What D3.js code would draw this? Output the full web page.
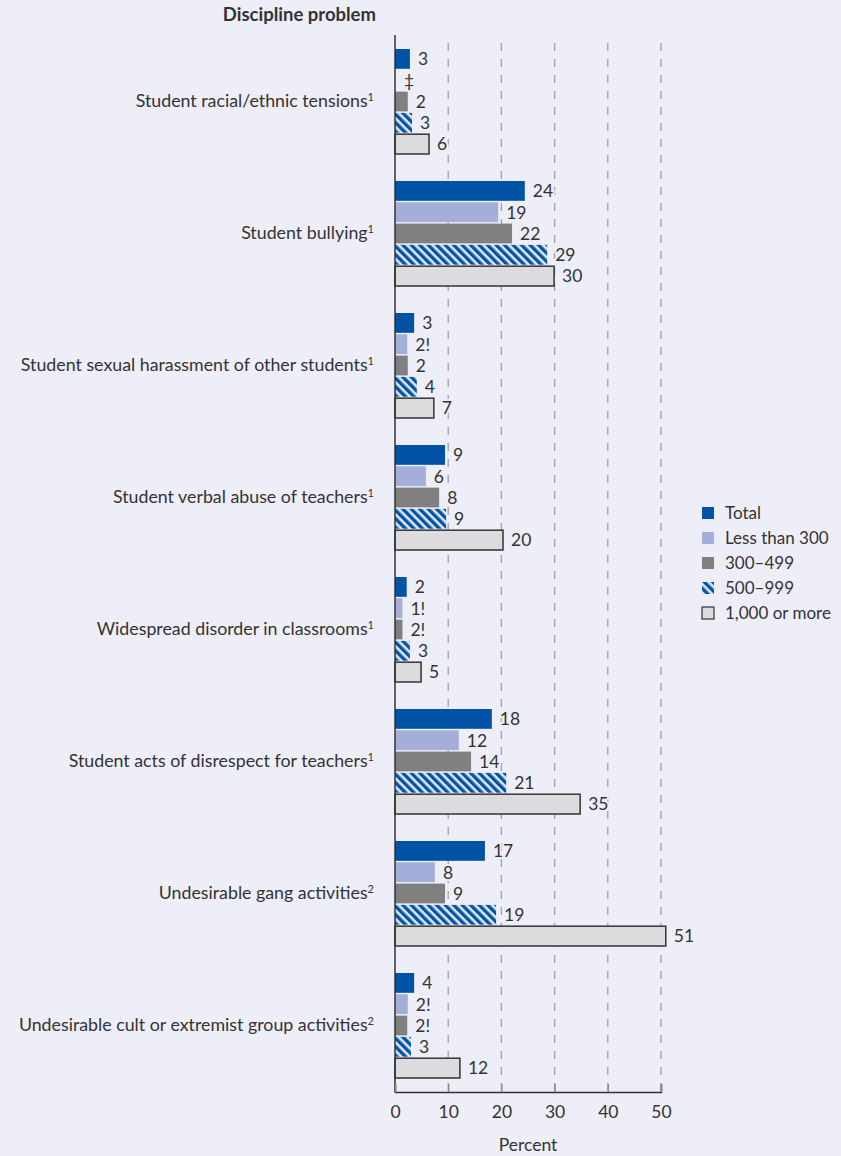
<!DOCTYPE html>
<html>
<head>
<meta charset="utf-8">
<script src="https://cdn.jsdelivr.net/npm/d3@7"></script>
<style>
  html, body { margin: 0; padding: 0; background: #eeeef8; }
  svg { display: block; }
  text { font-family: Lato, "Open Sans", sans-serif; fill: #333; }
</style>
</head>
<body>
<svg id="chart" width="841" height="1156"></svg>
<script>
const categories = [
  "Student racial/ethnic tensions",
  "Student bullying",
  "Student sexual harassment of other students",
  "Student verbal abuse of teachers",
  "Widespread disorder in classrooms",
  "Student acts of disrespect for teachers",
  "Undesirable gang activities",
  "Undesirable cult or extremist group activities"
];
const footnotes = ["1", "1", "1", "1", "1", "1", "2", "2"];
const seriesNames = ["Total", "Less than 300", "300–499", "500–999", "1,000 or more"];

const totalValues  = [2.8, 24.4, 3.6, 9.4, 2.2, 18.2, 16.9, 3.6];
const lt300Values  = [null, 19.4, 2.3, 5.8, 1.4, 12.0, 7.5, 2.4];
const s300Values   = [2.4, 22.0, 2.4, 8.3, 1.4, 14.3, 9.4, 2.3];
const s500Values   = [3.2, 28.6, 4.1, 9.6, 2.8, 20.9, 19.0, 3.0];
const s1000Values  = [6.4, 29.9, 7.3, 20.3, 4.9, 34.8, 50.9, 12.2];

const totalLabels  = ["3", "24", "3", "9", "2", "18", "17", "4"];
const lt300Labels  = ["‡", "19", "2!", "6", "1!", "12", "8", "2!"];
const s300Labels   = ["2", "22", "2", "8", "2!", "14", "9", "2!"];
const s500Labels   = ["3", "29", "4", "9", "3", "21", "19", "3"];
const s1000Labels  = ["6", "30", "7", "20", "5", "35", "51", "12"];

const xTicks = [0, 10, 20, 30, 40, 50];
const axisTitle = "Percent";
const chartTitle = "Discipline problem";

const seriesValues = [totalValues, lt300Values, s300Values, s500Values, s1000Values];
const seriesLabels = [totalLabels, lt300Labels, s300Labels, s500Labels, s1000Labels];

const svg = d3.select("#chart");
const defs = svg.append("defs");
const pat = defs.append("pattern")
  .attr("id", "hatch").attr("patternUnits", "userSpaceOnUse")
  .attr("width", 6).attr("height", 6)
  .attr("patternTransform", "rotate(-45)");
pat.append("rect").attr("width", 6).attr("height", 6).attr("fill", "#e4e6f4");
pat.append("rect").attr("x", 0).attr("width", 3.4).attr("height", 6).attr("fill", "#0055a5");

const fills = ["#0053a4", "#a3afd9", "#808080", "url(#hatch)", "#dcdcdf"];
const strokes = [null, null, null, null, "#333"];

const x = d3.scaleLinear().domain([0, 50]).range([395, 661]);
const y = d3.scaleBand().domain(categories).range([35, 1091]).padding(0);
const ySub = d3.scaleBand().domain(seriesNames).range([14, 119]).paddingInner(0.07);

// gridlines
svg.append("g").selectAll("line").data(xTicks.filter(d => d > 0)).join("line")
  .attr("x1", d => x(d)).attr("x2", d => x(d))
  .attr("y1", 43).attr("y2", 1091)
  .attr("stroke", "#a0a0a8").attr("stroke-width", 1.3)
  .attr("stroke-dasharray", "8,8");

// bars
const groups = svg.append("g").selectAll("g").data(categories).join("g")
  .attr("transform", c => `translate(0,${y(c)})`);

groups.each(function(c, ci) {
  const g = d3.select(this);
  seriesNames.forEach((s, si) => {
    const v = seriesValues[si][ci];
    const yy = ySub(s);
    const h = ySub.bandwidth();
    if (v !== null) {
      const r = g.append("rect")
        .attr("x", x(0)).attr("y", yy)
        .attr("width", x(v) - x(0)).attr("height", h)
        .attr("fill", fills[si]);
      if (strokes[si]) r.attr("stroke", strokes[si]).attr("stroke-width", 1.5);
    }
  });
  seriesNames.forEach((s, si) => {
    const v = seriesValues[si][ci];
    const yy = ySub(s);
    const h = ySub.bandwidth();
    const lx = v !== null ? x(v) + 8 : x(0) + 9;
    g.append("text")
      .attr("x", lx).attr("y", yy + h / 2)
      .attr("dy", "0.36em")
      .attr("font-size", 17.5)
      .attr("stroke", "#eeeef8").attr("stroke-width", 4)
      .attr("paint-order", "stroke")
      .text(seriesLabels[si][ci]);
  });
  const t = g.append("text")
    .attr("x", 374).attr("y", 66)
    .attr("dy", "0.36em")
    .attr("text-anchor", "end")
    .attr("font-size", 17.8);
  t.append("tspan").text(c);
  t.append("tspan").attr("font-size", 11).attr("dy", "-0.6em").text(footnotes[ci]);
});

// y axis line
svg.append("line").attr("x1", x(0)).attr("x2", x(0)).attr("y1", 35).attr("y2", 1092)
  .attr("stroke", "#333").attr("stroke-width", 1.5);

// x axis
const xAxis = svg.append("g").attr("transform", "translate(0,1092)")
  .call(d3.axisBottom(x).tickValues(xTicks).tickSize(-8).tickPadding(14).tickFormat(d3.format("d")));
xAxis.select(".domain").attr("stroke", "#333").attr("stroke-width", 1.5);
xAxis.selectAll(".tick line").attr("stroke", "#888").attr("stroke-width", 1.3);
xAxis.selectAll(".tick text").attr("font-size", 17.5).attr("fill", "#333")
  .attr("font-family", "Lato, 'Open Sans', sans-serif");

svg.append("text").attr("x", x(25)).attr("y", 1151)
  .attr("text-anchor", "middle").attr("font-size", 17.5).text(axisTitle);

svg.append("text").attr("x", 376).attr("y", 21)
  .attr("text-anchor", "end").attr("font-size", 18.5).attr("font-weight", "bold")
  .attr("fill", "#222").text(chartTitle);

// legend
const legend = svg.append("g").selectAll("g").data(seriesNames).join("g")
  .attr("transform", (d, i) => `translate(702,${507 + i * 25})`);
legend.append("rect").attr("width", 12).attr("height", 12)
  .attr("fill", (d, i) => fills[i])
  .attr("stroke", (d, i) => strokes[i] || "none").attr("stroke-width", 1.2);
legend.append("text").attr("x", 23).attr("y", 6).attr("dy", "0.36em")
  .attr("font-size", 17).text(d => d);
</script>
</body>
</html>
